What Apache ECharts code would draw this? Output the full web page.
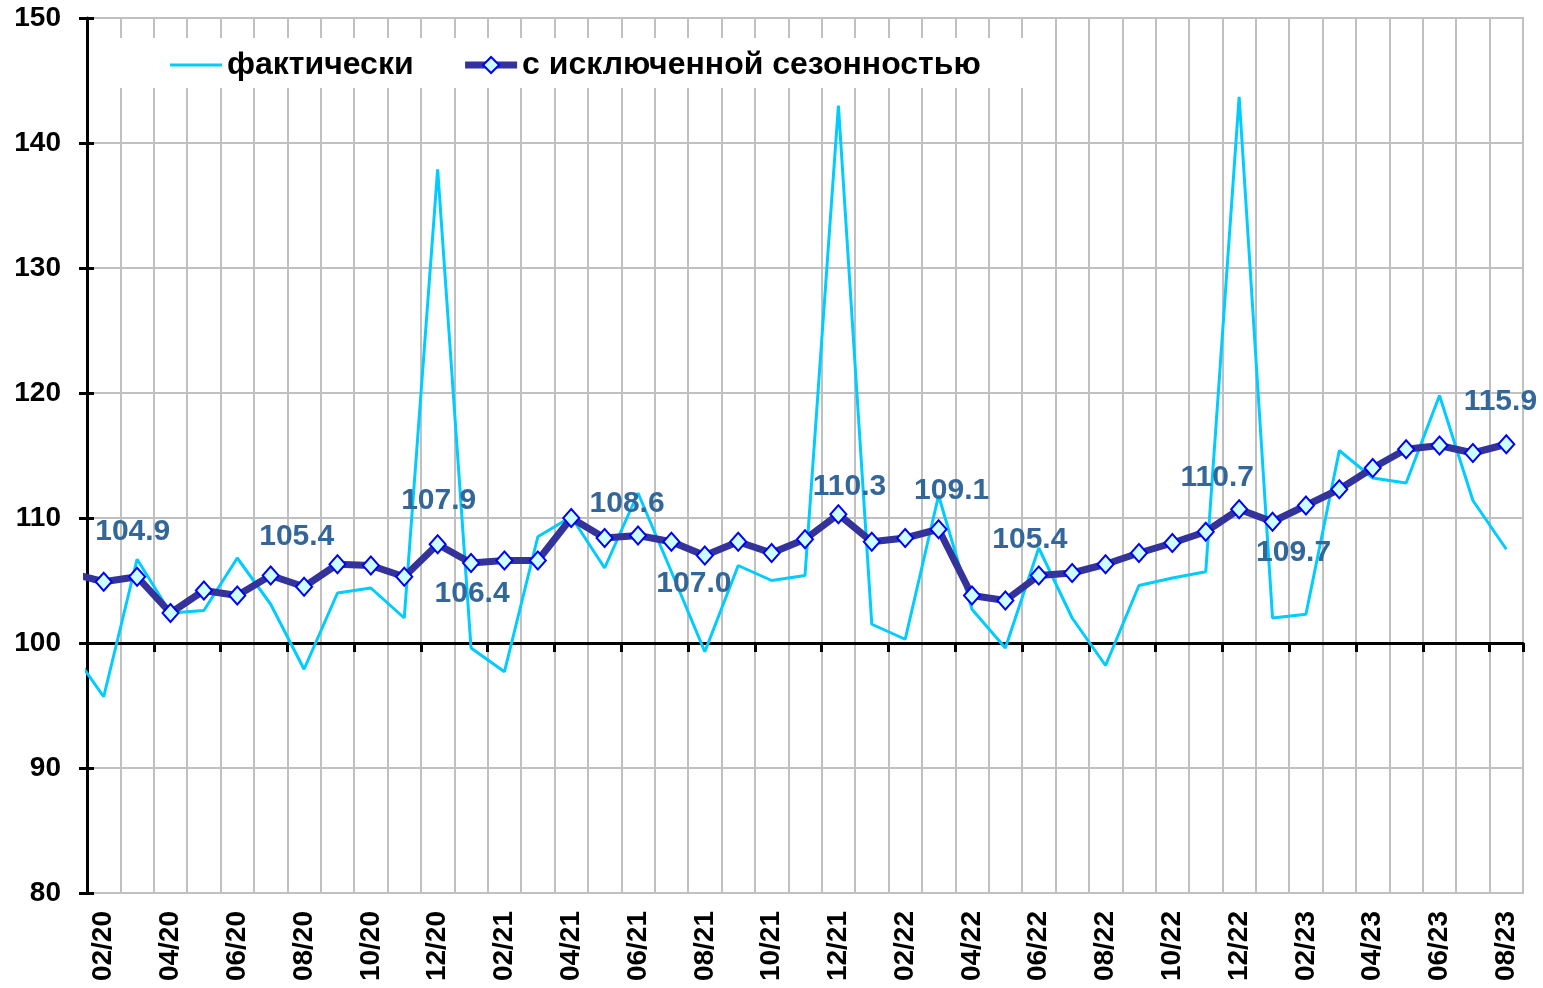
<!DOCTYPE html>
<html>
<head>
<meta charset="utf-8">
<title>Индекс</title>
<script src="https://cdn.jsdelivr.net/npm/echarts@6/dist/echarts.min.js"></script>
<style>
    html, body {margin: 0; padding: 0; background: #fff;}
    #chart {width: 1543px; height: 988px;}
</style>
</head>
<body>
<div id="chart"></div>
<script>
// месяцы 01/20 - 08/23 (01/20 sits outside the plot, only its segment shows)
var months = [
    '01/20', '02/20', '03/20', '04/20', '05/20', '06/20', '07/20', '08/20', '09/20', '10/20', '11/20', '12/20',
    '01/21', '02/21', '03/21', '04/21', '05/21', '06/21', '07/21', '08/21', '09/21', '10/21', '11/21', '12/21',
    '01/22', '02/22', '03/22', '04/22', '05/22', '06/22', '07/22', '08/22', '09/22', '10/22', '11/22', '12/22',
    '01/23', '02/23', '03/23', '04/23', '05/23', '06/23', '07/23', '08/23'
];
// фактически
var actual = [
    99.5, 95.7, 106.7, 102.4, 102.6, 106.8, 103.1, 97.9, 104.0, 104.4, 102.0, 137.9,
    99.6, 97.7, 108.5, 110.1, 106.0, 112.0, 105.7, 99.3, 106.2, 105.0, 105.4, 143.0,
    101.5, 100.3, 111.8, 102.7, 99.6, 107.6, 102.0, 98.2, 104.6, 105.2, 105.7, 143.7,
    102.0, 102.3, 115.4, 113.2, 112.8, 119.8, 111.4, 107.5
];
// с исключенной сезонностью
var seasonal = [
    105.6, 104.9, 105.3, 102.4, 104.2, 103.8, 105.4, 104.5, 106.3, 106.2, 105.3, 107.9,
    106.4, 106.6, 106.6, 110.0, 108.4, 108.6, 108.1, 107.0, 108.1, 107.2, 108.3, 110.3,
    108.1, 108.4, 109.1, 103.8, 103.4, 105.4, 105.6, 106.3, 107.2, 108.0, 108.9, 110.7,
    109.7, 111.0, 112.3, 114.0, 115.5, 115.8, 115.2, 115.9
];
var yTicks = [80, 90, 100, 110, 120, 130, 140, 150];

// which points get a value label, and where it goes (px from the point)
var labelOffsets = {
    1: [30, -49],
    6: [27, -38],
    11: [2, -42],
    12: [2, 32],
    17: [-10, -31],
    19: [-10, 29],
    23: [12, -26],
    26: [14, -37],
    29: [-8, -35],
    35: [-21, -30],
    36: [22, 32],
    43: [-5, -41]
};

var FONT = 'Liberation Sans, Arial, sans-serif';
var GRID_COLOR = '#c0c0c0';
var SYMBOL_SIZE = [16, 18];

var seasonalData = seasonal.map(function (v, i) {
    var off = labelOffsets[i];
    if (!off) {
        return v;
    }
    return {
        value: v,
        label: {
            show: true,
            // position is measured from the symbol's top-left corner
            position: [SYMBOL_SIZE[0] / 2 + off[0], SYMBOL_SIZE[1] / 2 + off[1]],
            align: 'center',
            verticalAlign: 'middle'
        }
    };
});

var oddOnly = function (index) {
    return index % 2 === 1;
};

var chart = echarts.init(document.getElementById('chart'), null, {renderer: 'canvas'});

var option = {
    backgroundColor: '#fff',
    animation: false,
    grid: {
        left: 87,
        right: 20,
        top: 18,
        bottom: 95,
        show: true,
        borderColor: GRID_COLOR,
        borderWidth: 2,
        outerBoundsMode: 'none'
    },
    legend: {
        left: 95,
        top: 38,
        padding: [11, 45, 7, 75],
        backgroundColor: '#fff',
        itemWidth: 52,
        itemHeight: 20,
        itemGap: 48,
        textStyle: {
            color: '#000',
            fontFamily: FONT,
            fontWeight: 'bold',
            fontSize: 32
        },
        data: [
            {
                name: 'фактически',
                icon: 'path://M0,0H52V3H0Z',
                itemStyle: {color: '#00ccff'}
            },
            {
                name: 'с исключенной сезонностью',
                lineStyle: {width: 7, color: '#333399'}
            }
        ]
    },
    xAxis: [
        {
            // bottom: labels + vertical grid
            type: 'category',
            data: months,
            min: 1,
            boundaryGap: true,
            axisLine: {show: false},
            axisTick: {show: false},
            axisLabel: {
                interval: oddOnly,
                rotate: 90,
                margin: 18,
                color: '#000',
                fontFamily: FONT,
                fontWeight: 'bold',
                fontSize: 28
            },
            splitLine: {
                show: true,
                interval: 0,
                lineStyle: {color: GRID_COLOR, width: 2}
            }
        },
        {
            // the black line at 100 with its ticks
            type: 'category',
            data: months,
            min: 1,
            boundaryGap: true,
            position: 'bottom',
            offset: -250,
            axisLine: {show: true, lineStyle: {color: '#000', width: 3}},
            axisTick: {
                show: true,
                interval: oddOnly,
                length: 9,
                lineStyle: {color: '#000', width: 3}
            },
            axisLabel: {show: false},
            splitLine: {show: false}
        }
    ],
    yAxis: [
        {
            type: 'value',
            min: yTicks[0],
            max: yTicks[yTicks.length - 1],
            interval: 10,
            axisLine: {show: true, lineStyle: {color: '#000', width: 3}},
            axisTick: {show: true, length: 8, lineStyle: {color: '#000', width: 3}},
            axisLabel: {
                margin: 26,
                color: '#000',
                fontFamily: FONT,
                fontWeight: 'bold',
                fontSize: 28
            },
            splitLine: {show: true, lineStyle: {color: GRID_COLOR, width: 2}}
        },
        {
            // inner half of the cross ticks
            type: 'value',
            position: 'left',
            min: yTicks[0],
            max: yTicks[yTicks.length - 1],
            interval: 10,
            axisLine: {show: false},
            axisTick: {show: true, inside: true, length: 7, lineStyle: {color: '#000', width: 3}},
            axisLabel: {show: false},
            splitLine: {show: false}
        }
    ],
    series: [
        {
            name: 'фактически',
            type: 'line',
            data: actual,
            clip: true,
            symbol: 'none',
            z: 2,
            lineStyle: {color: '#00ccff', width: 3},
            itemStyle: {color: '#00ccff'}
        },
        {
            name: 'с исключенной сезонностью',
            type: 'line',
            data: seasonalData,
            clip: true,
            symbol: 'diamond',
            symbolSize: SYMBOL_SIZE,
            z: 3,
            lineStyle: {color: '#333399', width: 7},
            itemStyle: {color: '#ccffff', borderColor: '#0000ff', borderWidth: 2},
            label: {
                show: false,
                color: '#336699',
                fontFamily: FONT,
                fontWeight: 'bold',
                fontSize: 30,
                formatter: function (p) {
                    return p.value.toFixed(1);
                }
            }
        }
    ]
};

chart.setOption(option);
</script>
</body>
</html>
